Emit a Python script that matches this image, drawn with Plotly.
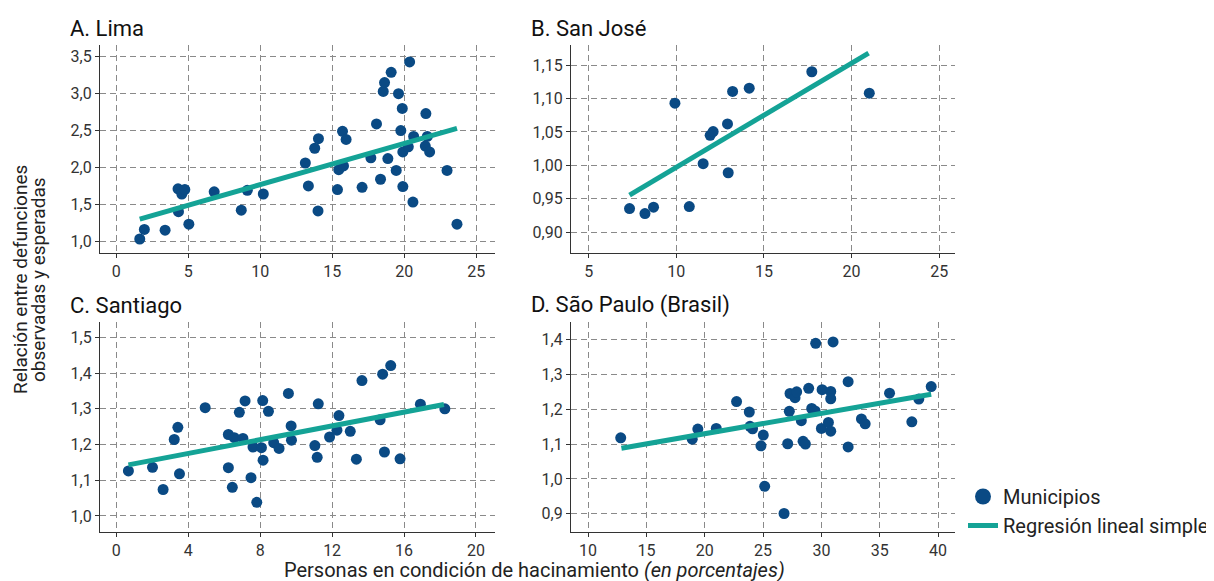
import plotly.graph_objects as go

# ---------------- data ----------------
lima_x = [1.63, 1.95, 3.39, 4.29, 4.55, 4.76, 4.32, 5.04, 6.80, 8.68, 9.10, 10.21, 13.13, 13.34, 13.78,
          14.04, 14.01, 15.36, 15.45, 15.78, 15.71, 15.96, 17.07, 17.68, 18.07, 18.35, 18.54, 18.63,
          19.09, 18.86, 19.44, 19.60, 19.86, 19.76, 19.90, 19.90, 20.28, 20.65, 20.60, 20.37, 21.50,
          21.60, 21.46, 21.76, 22.97, 23.66]
lima_y = [1.03, 1.16, 1.15, 1.71, 1.64, 1.70, 1.40, 1.23, 1.67, 1.42, 1.69, 1.64, 2.06, 1.75, 2.26,
          2.39, 1.41, 1.70, 1.97, 2.02, 2.49, 2.38, 1.73, 2.13, 2.59, 1.84, 3.03, 3.15,
          3.29, 2.12, 1.96, 3.00, 2.80, 2.50, 2.21, 1.74, 2.28, 2.42, 1.53, 3.43, 2.73,
          2.42, 2.29, 2.21, 1.96, 1.23]
lima_fit_x = [1.63, 23.66]
lima_fit_y = [1.30, 2.53]

sj_x = [7.33, 8.21, 8.70, 9.92, 10.74, 11.53, 11.93, 12.10, 12.92, 12.96, 13.21, 14.16, 17.73, 21.01]
sj_y = [0.9355, 0.928, 0.9375, 1.093, 0.9385, 1.0025, 1.045, 1.0505, 1.062, 0.989, 1.1105, 1.1155, 1.140, 1.108]
sj_fit_x = [7.33, 20.97]
sj_fit_y = [0.9555, 1.168]

sa_x = [0.67, 2.01, 2.60, 3.22, 3.42, 3.51, 4.94, 6.23, 6.23, 6.45, 6.56, 6.84, 7.04, 7.16, 7.49,
        7.60, 7.81, 8.07, 8.14, 8.16, 8.46, 8.75, 9.05, 9.57, 9.72, 9.74, 11.04, 11.17, 11.23,
        11.86, 12.27, 12.38, 13.01, 13.35, 13.66, 14.67, 14.81, 14.91, 15.26, 15.78, 16.91, 18.27]
sa_y = [1.126, 1.136, 1.074, 1.214, 1.248, 1.118, 1.303, 1.228, 1.135, 1.080, 1.219, 1.290, 1.217, 1.322, 1.107,
        1.193, 1.038, 1.191, 1.323, 1.156, 1.293, 1.205, 1.189, 1.343, 1.252, 1.212, 1.197, 1.164, 1.314,
        1.221, 1.240, 1.281, 1.237, 1.159, 1.379, 1.269, 1.397, 1.179, 1.421, 1.160, 1.313, 1.300]
sa_fit_x = [0.67, 18.22]
sa_fit_y = [1.143, 1.312]

sp_x = [12.80, 18.93, 19.41, 20.99, 22.73, 23.82, 23.88, 24.10, 24.82, 25.02, 25.14, 26.80, 27.11,
        27.25, 27.31, 27.74, 27.88, 28.28, 28.43, 28.63, 28.91, 29.17, 29.46, 29.51, 30.00, 30.06,
        30.60, 30.80, 30.80, 30.80, 31.00, 32.29, 32.29, 33.43, 33.75, 35.84, 37.75, 38.35, 39.41]
sp_y = [1.118, 1.114, 1.143, 1.145, 1.222, 1.192, 1.151, 1.144, 1.095, 1.126, 0.979, 0.901, 1.101,
        1.194, 1.245, 1.233, 1.250, 1.167, 1.108, 1.100, 1.260, 1.202, 1.195, 1.389, 1.145, 1.256,
        1.162, 1.251, 1.230, 1.137, 1.393, 1.279, 1.092, 1.172, 1.158, 1.246, 1.164, 1.229, 1.265]
sp_fit_x = [12.86, 39.41]
sp_fit_y = [1.088, 1.243]

panel_titles = ["A. Lima", "B. San José", "C. Santiago", "D. São Paulo (Brasil)"]
x_title = "Personas en condición de hacinamiento <i>(en porcentajes)</i>"
y_title_lines = ["Relación entre defunciones", "observadas y esperadas"]
legend_names = ["Municipios", "Regresión lineal simple"]

# ---------------- figure ----------------
PAGE_W, PAGE_H = 1214, 581
OFF = 8                      # default body margin of the html page
W, H = PAGE_W - OFF, PAGE_H - OFF
FONT = "Roboto, Arial, sans-serif"
DOT = "#0a4a84"
LINE = "#14a396"
AXC = "#333333"


def px_x(p):
    return (p - OFF) / W


def px_y(p):
    return 1 - (p - OFF) / H


panels = [
    dict(x=lima_x, y=lima_y, fx=lima_fit_x, fy=lima_fit_y, dom_x=(100, 495), dom_y=(45, 253),
         xr=[-1.13, 26.3], yr=[0.84, 3.66], xt=(0, 5), yt=(1.0, 0.5), yfmt=".1f"),
    dict(x=sj_x, y=sj_y, fx=sj_fit_x, fy=sj_fit_y, dom_x=(571, 955), dom_y=(45, 253),
         xr=[3.99, 25.9], yr=[0.869, 1.18], xt=(5, 5), yt=(0.9, 0.05), yfmt=".2f"),
    dict(x=sa_x, y=sa_y, fx=sa_fit_x, fy=sa_fit_y, dom_x=(100, 495), dom_y=(322, 532),
         xr=[-0.91, 21.06], yr=[0.955, 1.543], xt=(0, 4), yt=(1.0, 0.1), yfmt=".1f"),
    dict(x=sp_x, y=sp_y, fx=sp_fit_x, fy=sp_fit_y, dom_x=(571, 955), dom_y=(322, 532),
         xr=[8.54, 41.45], yr=[0.848, 1.45], xt=(10, 5), yt=(0.9, 0.1), yfmt=".1f"),
]

fig = go.Figure()
layout = {}
for i, p in enumerate(panels):
    n = "" if i == 0 else str(i + 1)
    xa, ya = "x" + n, "y" + n
    fig.add_trace(go.Scatter(x=p["x"], y=p["y"], mode="markers", xaxis=xa, yaxis=ya,
                             marker=dict(color=DOT, size=11, line=dict(width=0)),
                             name=legend_names[0], showlegend=False))
    fig.add_trace(go.Scatter(x=p["fx"], y=p["fy"], mode="lines", xaxis=xa, yaxis=ya,
                             line=dict(color=LINE, width=5),
                             name=legend_names[1], showlegend=False))
    axcommon = dict(showline=True, linecolor=AXC, linewidth=1.2, ticks="outside", ticklen=4,
                    tickcolor=AXC, tickwidth=1, showgrid=True, gridcolor="#8a8a8a",
                    griddash="6px,4px", gridwidth=1, zeroline=False, automargin=False,
                    tickfont=dict(size=16, color="#333333", family=FONT))
    layout["xaxis" + n] = dict(axcommon, domain=[px_x(p["dom_x"][0]), px_x(p["dom_x"][1])],
                               range=p["xr"], tick0=p["xt"][0], dtick=p["xt"][1],
                               anchor=ya)
    layout["yaxis" + n] = dict(axcommon, domain=[px_y(p["dom_y"][1]), px_y(p["dom_y"][0])],
                               range=p["yr"], tick0=p["yt"][0], dtick=p["yt"][1],
                               tickformat=p["yfmt"], anchor=xa)

# legend-only traces (larger legend symbol, like the reference)
fig.add_trace(go.Scatter(x=[None], y=[None], mode="markers", name=legend_names[0],
                         marker=dict(color=DOT, size=16), showlegend=True))
fig.add_trace(go.Scatter(x=[None], y=[None], mode="lines", name=legend_names[1],
                         line=dict(color=LINE, width=5), showlegend=True))

annotations = []
title_pos = [(68, 28), (529, 28), (68, 305), (529, 305)]
for t, (ax_, ay_) in zip(panel_titles, title_pos):
    annotations.append(dict(text=t, x=px_x(ax_), y=px_y(ay_), xref="paper", yref="paper",
                            xanchor="left", yanchor="middle", showarrow=False,
                            font=dict(size=22, color="#111111", family=FONT)))
annotations.append(dict(text=x_title, x=px_x(534), y=px_y(570), xref="paper", yref="paper",
                        xanchor="center", yanchor="middle", showarrow=False,
                        font=dict(size=20, color="#222222", family=FONT)))
for line_txt, lx in zip(y_title_lines, (20, 38)):
    annotations.append(dict(text=line_txt, x=px_x(lx), y=px_y(280), xref="paper", yref="paper",
                            xanchor="center", yanchor="middle", showarrow=False, textangle=-90,
                            font=dict(size=19, color="#222222", family=FONT)))

fig.update_layout(
    width=W, height=H,
    margin=dict(l=0, r=0, t=0, b=0, autoexpand=False),
    paper_bgcolor="white", plot_bgcolor="white",
    separators=",.",
    font=dict(family=FONT, size=16, color="#222222"),
    showlegend=True,
    legend=dict(x=1.0, y=px_y(477), xanchor="right", yanchor="top",
                font=dict(size=20, family=FONT, color="#222222"), bgcolor="rgba(0,0,0,0)",
                itemwidth=30),
    annotations=annotations,
    **layout,
)

fig.write_html("out.html")
